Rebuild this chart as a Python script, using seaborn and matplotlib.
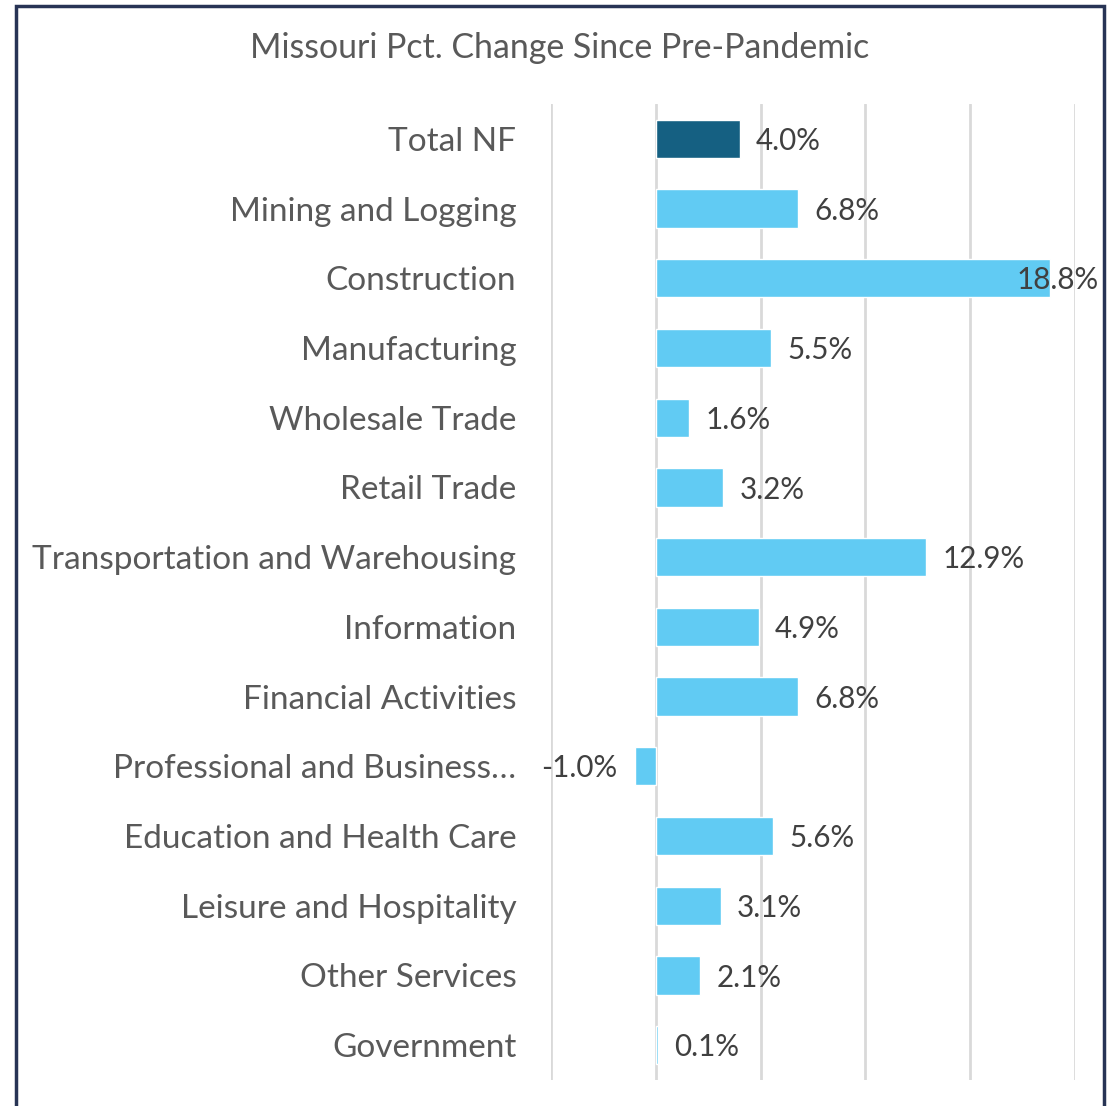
import matplotlib
matplotlib.use("Agg")
import matplotlib.pyplot as plt
import pandas as pd
import seaborn as sns
from matplotlib.patches import Rectangle

categories = [
    "Total NF", "Mining and Logging", "Construction", "Manufacturing",
    "Wholesale Trade", "Retail Trade", "Transportation and Warehousing",
    "Information", "Financial Activities", "Professional and Business…",
    "Education and Health Care", "Leisure and Hospitality", "Other Services",
    "Government",
]
pct_change = [4.0, 6.8, 18.8, 5.5, 1.6, 3.2, 12.9, 4.9, 6.8, -1.0, 5.6, 3.1, 2.1, 0.1]
bar_colors = ["#156082"] + ["#61CBF3"] * (len(categories) - 1)

df = pd.DataFrame({"Industry": categories, "Change": pct_change})

sns.set_theme(style="white")
plt.rcParams["font.family"] = ["Lato", "DejaVu Sans"]

fig = plt.figure(figsize=(11.19, 11.06), dpi=100)
ax = fig.add_axes([551 / 1119, 1 - 1080 / 1106, 524 / 1119, 976 / 1106])

sns.barplot(
    data=df, x="Change", y="Industry", hue="Industry", order=categories,
    palette=dict(zip(categories, bar_colors)), legend=False, width=0.55,
    saturation=1, ax=ax,
)

ax.set_xlim(-5, 20)
ax.set_xticks([-5, 0, 5, 10, 15, 20])
ax.tick_params(axis="x", bottom=False, labelbottom=False)
ax.tick_params(axis="y", left=False, pad=19, labelsize=24, labelcolor="#595959")
ax.xaxis.grid(True, color="#D9D9D9", linewidth=2)
ax.set_axisbelow(True)
for s in ax.spines.values():
    s.set_visible(False)
ax.set_xlabel("")
ax.set_ylabel("")

# data labels, Excel-style (the big one gets pushed back inside the plot)
for i, v in enumerate(pct_change):
    if v >= 0:
        ax.text(min(v + 0.78, 17.2), i + 0.03, f"{v:.1f}%", ha="left", va="center",
                fontsize=21.3, color="#404040", clip_on=False)
    else:
        ax.text(v - 0.85, i + 0.03, f"{v:.1f}%", ha="right", va="center",
                fontsize=21.3, color="#404040", clip_on=False)

fig.text(560 / 1119, 1 - 48 / 1106, "Missouri Pct. Change Since Pre-Pandemic",
         ha="center", va="center", fontsize=24.4, color="#595959")

fig.patches.append(Rectangle((16 / 1119, -0.05), 1088 / 1119, 1.05 - 6 / 1106,
                             transform=fig.transFigure, fill=False,
                             edgecolor="#283455", linewidth=2.5))

fig.savefig("out.png", dpi=100, facecolor="white")
